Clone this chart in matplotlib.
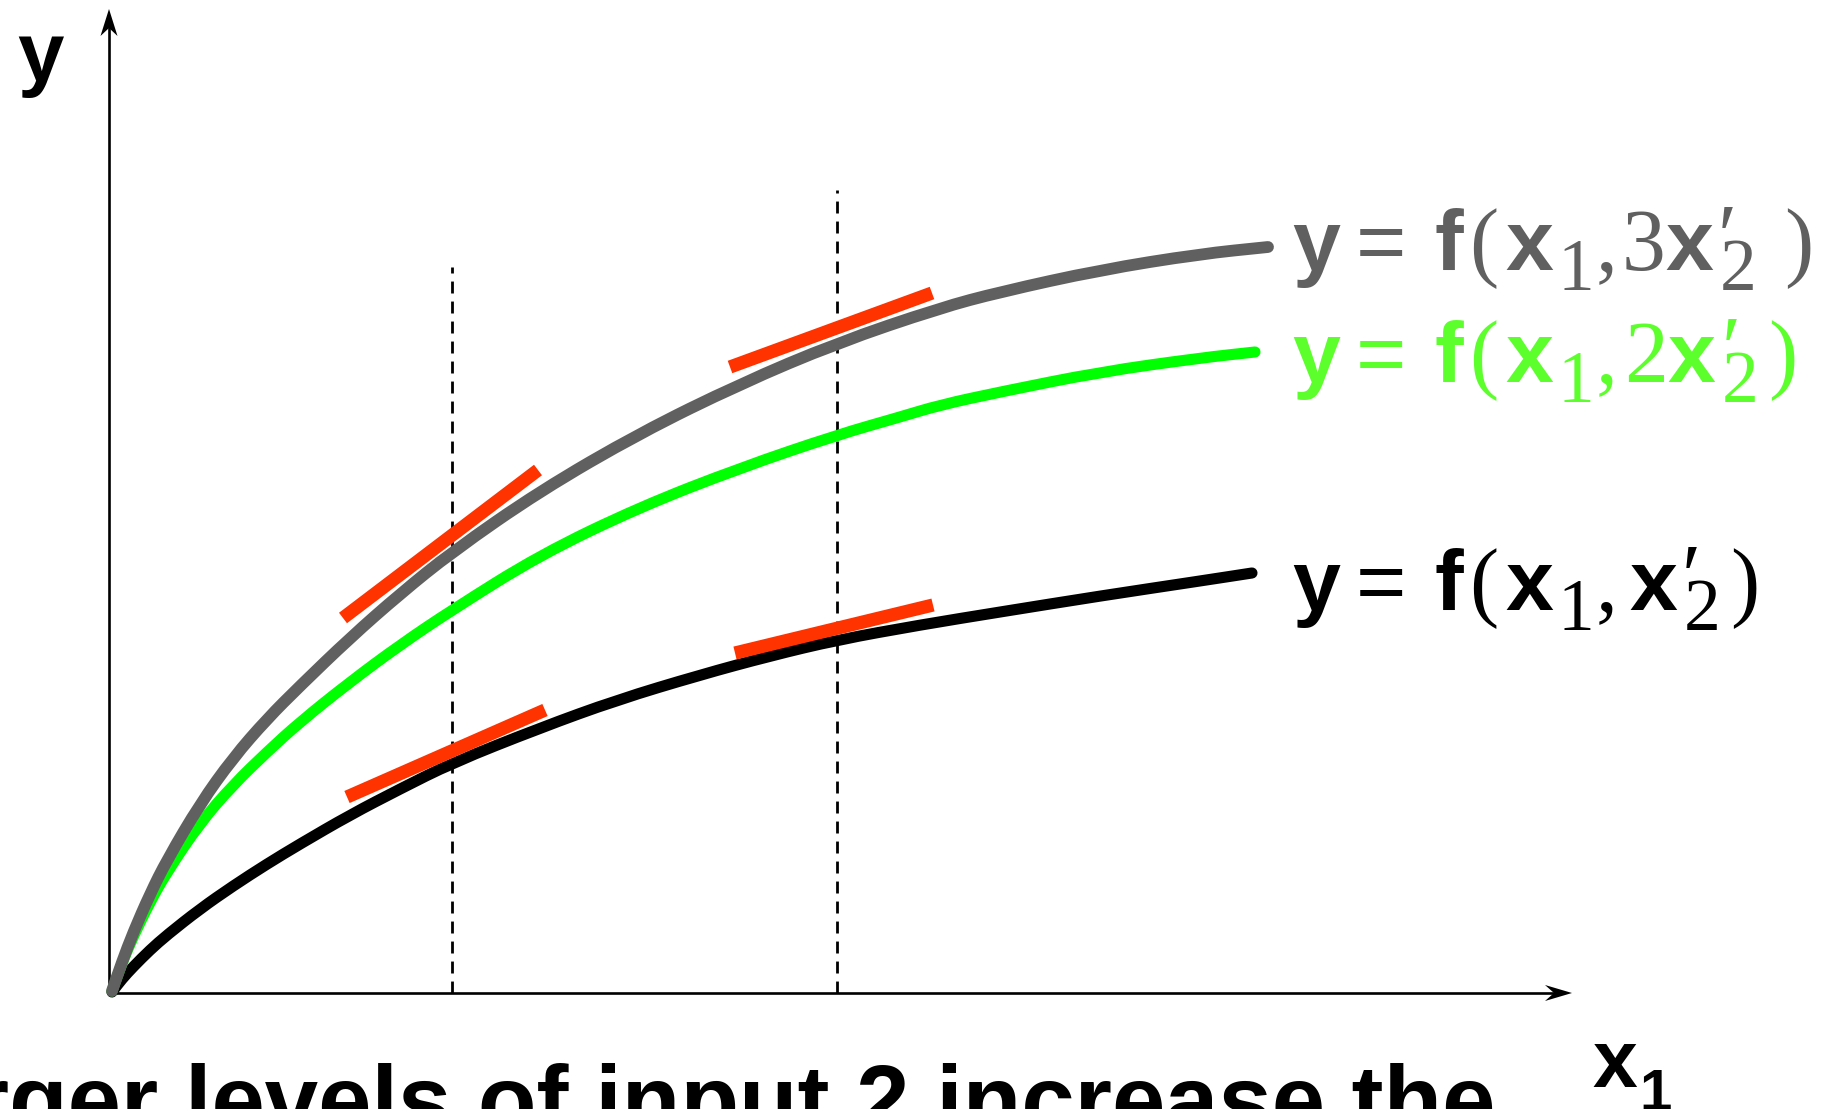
import matplotlib.pyplot as plt
from matplotlib.patches import Polygon, PathPatch
from matplotlib.path import Path

SANS = ['Liberation Sans', 'DejaVu Sans']
SERIF = ['Liberation Serif', 'DejaVu Serif']

# output curves, x1 and y in units of 100 px from the axis corner
x_gray = [0.04, 0.14, 0.25, 0.42, 0.59, 0.92, 1.25, 1.59, 1.92, 2.42, 2.92,
          3.44, 4.32, 5.32, 6.32, 7.29, 8.32, 8.92, 9.92, 10.92, 11.60]
y_gray = [0.02, 0.31, 0.60, 0.99, 1.33, 1.89, 2.35, 2.74, 3.07, 3.55, 3.99,
          4.41, 5.02, 5.60, 6.09, 6.50, 6.85, 7.01, 7.23, 7.39, 7.46]

x_green = [0.04, 0.14, 0.25, 0.42, 0.59, 0.92, 1.25, 1.59, 1.92, 2.42, 2.92,
           3.44, 4.32, 5.32, 6.32, 7.29, 7.92, 8.32, 8.92, 9.92, 10.92, 11.47]
y_green = [0.02, 0.30, 0.56, 0.91, 1.21, 1.70, 2.08, 2.41, 2.71, 3.11, 3.48,
           3.83, 4.38, 4.86, 5.25, 5.58, 5.76, 5.88, 6.01, 6.21, 6.35, 6.41]

x_black = [0.04, 0.14, 0.25, 0.42, 0.59, 0.92, 1.25, 1.59, 1.92, 2.42, 2.92,
           3.44, 4.32, 5.09, 5.92, 6.62, 7.29, 8.12, 8.92, 9.92, 10.92, 11.44]
y_black = [0.01, 0.14, 0.26, 0.43, 0.58, 0.84, 1.07, 1.29, 1.49, 1.78, 2.04,
           2.30, 2.65, 2.93, 3.18, 3.37, 3.53, 3.68, 3.81, 3.97, 4.12, 4.20]

# slope segments (start, end) at the two input levels
tangent_x = [[2.35, 4.30], [6.22, 8.24], [2.39, 4.37], [6.27, 8.25]]
tangent_y = [[3.75, 5.23], [6.26, 7.00], [1.96, 2.83], [3.40, 3.88]]

guide_x = [3.44, 7.29]
guide_top = [7.26, 8.03]

GRAY = '#606060'
GREEN = '#00ff00'
GREEN_TXT = '#5cff2c'
RED = '#ff3300'

fig = plt.figure(figsize=(18.36, 11.09), dpi=100)
ax = fig.add_axes([0, 0, 1, 1])
ax.set_xlim(-1.08, 17.28)
ax.set_ylim(-1.16, 9.93)
ax.axis('off')


def smooth_curve(xs, ys, color, lw, z):
    # quadratic bezier through segment midpoints, read points act as controls
    pts = list(zip(xs, ys))
    verts = [pts[0], ((pts[0][0] + pts[1][0]) / 2, (pts[0][1] + pts[1][1]) / 2)]
    codes = [Path.MOVETO, Path.LINETO]
    for i in range(1, len(pts) - 1):
        mid = ((pts[i][0] + pts[i + 1][0]) / 2, (pts[i][1] + pts[i + 1][1]) / 2)
        verts += [pts[i], mid]
        codes += [Path.CURVE3, Path.CURVE3]
    verts.append(pts[-1])
    codes.append(Path.LINETO)
    ax.add_patch(PathPatch(Path(verts, codes), fill=False, edgecolor=color, lw=lw,
                           capstyle='round', joinstyle='round', zorder=z))


# axes with arrow heads
ax.plot([0.01, 0.01], [0, 9.70], color='black', lw=1.9, solid_capstyle='butt')
ax.plot([0, 14.50], [0, 0], color='black', lw=1.9, solid_capstyle='butt')
ax.add_patch(Polygon([[0.01, 9.84], [0.095, 9.57], [0.01, 9.65], [-0.075, 9.57]],
                     closed=True, color='black', lw=0))
ax.add_patch(Polygon([[14.64, 0], [14.37, 0.08], [14.46, 0], [14.37, -0.08]],
                     closed=True, color='black', lw=0))

for gx, gt in zip(guide_x, guide_top):
    ax.plot([gx, gx], [0, gt], color='black', lw=2, linestyle=(0, (4.3, 2.9)), zorder=1)

smooth_curve(x_black, y_black, 'black', 8.0, 2)
smooth_curve(x_green, y_green, GREEN, 8.0, 3)
smooth_curve(x_gray, y_gray, GRAY, 8.5, 4)

for tx, ty in zip(tangent_x, tangent_y):
    ax.plot(tx, ty, color=RED, lw=9.5, solid_capstyle='butt', zorder=5)


def piece(x, y, s, fam, size, color, weight=None):
    if weight is None:
        weight = 'bold' if fam is SANS else 'normal'
    ax.text(x, y, s, family=fam, fontsize=size, color=color, va='baseline',
            ha='left', weight=weight)


def curve_label(x0, base, tail, color):
    # y = f(x_1, ... shared by all three labels
    piece(x0, base, 'y', SANS, 62, color)
    piece(x0 + 0.64, base, '=', SANS, 62, color, 'normal')
    piece(x0 + 1.42, base, 'f', SANS, 62, color)
    piece(x0 + 1.77, base, '(', SERIF, 63, color)
    piece(x0 + 2.13, base, 'x', SANS, 62, color)
    piece(x0 + 2.65, base - 0.20, '1', SERIF, 53, color)
    piece(x0 + 3.04, base, ',', SERIF, 63, color)
    for dx, dy, s, fam, size in tail:
        piece(x0 + dx, base + dy, s, fam, size, color)


tail_black = [(3.37, 0, 'x', SANS, 62), (3.90, 0.05, '\u2032', SERIF, 63),
              (3.92, -0.20, '2', SERIF, 53), (4.38, 0, ')', SERIF, 63)]
tail_gray = [(3.30, 0, '3', SERIF, 63), (3.73, 0, 'x', SANS, 62),
             (4.26, 0.05, '\u2032', SERIF, 63), (4.28, -0.20, '2', SERIF, 53),
             (4.92, 0, ')', SERIF, 63)]
tail_green = [(3.32, 0, '2', SERIF, 63), (3.75, 0, 'x', SANS, 62),
              (4.30, 0.05, '\u2032', SERIF, 63), (4.30, -0.20, '2', SERIF, 53),
              (4.76, 0, ')', SERIF, 63)]

curve_label(11.84, 7.23, tail_gray, GRAY)
curve_label(11.84, 6.11, tail_green, GREEN_TXT)
curve_label(11.84, 3.83, tail_black, 'black')

# axis names
ax.text(-0.91, 9.12, 'y', family=SANS, weight='bold', fontsize=60, va='baseline')
ax.text(14.84, -0.94, 'x', family=SANS, weight='bold', fontsize=58, va='baseline')
ax.text(15.31, -1.17, '1', family=SANS, weight='bold', fontsize=42, va='baseline')

ax.text(13.87, -1.40, 'Larger levels of input 2 increase the', family=SANS,
        weight='bold', fontsize=69, ha='right', va='baseline')

fig.savefig('out.png', dpi=100)
